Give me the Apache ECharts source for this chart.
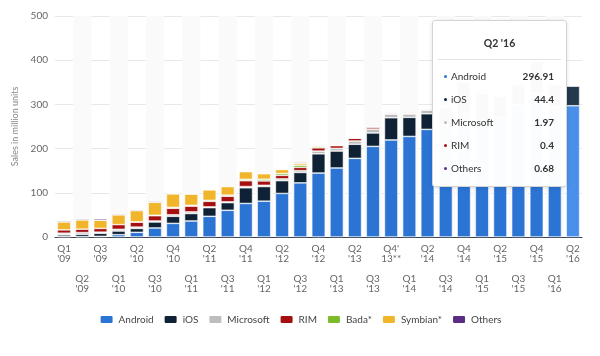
<!DOCTYPE html>
<html>
<head>
<meta charset="utf-8">
<script src="https://cdn.jsdelivr.net/npm/echarts@6/dist/echarts.min.js"></script>
<style>
html,body{margin:0;padding:0;background:#fff;}
#chart{width:600px;height:356px;}
</style>
</head>
<body>
<div id="chart"></div>
<script>
const categories = ["Q1\n'09","Q2\n'09","Q3\n'09","Q1\n'10","Q2\n'10","Q3\n'10","Q4\n'10","Q1\n'11","Q2\n'11","Q3\n'11","Q4\n'11","Q1\n'12","Q2\n'12","Q3\n'12","Q4\n'12","Q1\n'13","Q2\n'13","Q3\n'13","Q4'\n13**","Q1\n'14","Q2\n'14","Q3\n'14","Q4\n'14","Q1\n'15","Q2\n'15","Q3\n'15","Q4\n'15","Q1\n'16","Q2\n'16"];
const tooltipTitle = "Q2 '16";
const android   = [1.0,0.76,1.42,5.23,10.6,20.5,30.8,36.27,46.78,60.49,75.9,81.07,98.53,122.48,144.72,156.19,177.9,205.02,219.6,227.55,243.48,254.35,279.06,265.01,271.01,298.8,325.39,293.77,296.91];
const ios       = [3.85,5.33,7.04,8.36,8.74,13.48,16.01,16.88,19.63,17.3,35.46,33.12,28.94,23.55,43.46,38.33,31.9,30.33,50.22,43.06,35.35,38.19,71.53,60.18,48.09,46.06,71.53,51.63,44.4];
const microsoft = [3.74,3.83,2.5,3.7,3.1,2.25,3.42,3.66,1.72,1.7,2.76,2.71,4.04,4.06,6.19,5.99,7.41,8.91,8.2,7.58,8.1,8.97,10.43,8.27,8.2,5.87,4.4,2.4,1.97];
const rim       = [7.53,7.78,8.52,10.75,11.23,11.91,14.76,13.0,12.65,12.7,13.18,9.94,7.99,7.41,7.33,6.22,6.18,4.4,1.81,1.71,1.9,2.04,1.73,1.33,1.15,0.98,0.91,0.66,0.4];
const bada      = [null,null,null,null,0.58,0.92,2.03,1.9,2.06,2.48,3.11,3.84,4.21,5.05,2.68,null,null,null,null,null,null,null,null,null,null,null,null,null,null];
const symbian   = [17.83,20.88,18.31,22.0,25.39,29.48,30.5,25.5,23.85,19.5,17.46,12.47,9.07,4.4,2.57,1.35,0.63,0.46,null,null,null,null,null,null,null,null,null,null,null];
const others    = [2.5,2.4,3.3,2.2,2.0,2.0,1.5,0.5,1.0,0.8,1.2,1.3,0.9,2.3,0.8,1.5,1.3,1.5,1.5,1.5,1.2,1.4,1.2,1.6,1.6,1.4,1.1,0.9,0.68];
const yTicks = [0,100,200,300,400,500];

const seriesDefs = [
  {name:'Android',   data:android,   color:'#2b74d4', hi:'#4a8fe9'},
  {name:'iOS',       data:ios,       color:'#0e2135', hi:'#24384e'},
  {name:'Microsoft', data:microsoft, color:'#bdbdbd', hi:'#cfcfcf'},
  {name:'RIM',       data:rim,       color:'#a50f0f', hi:'#c02a2a'},
  {name:'Bada*',     data:bada,      color:'#7dbb2b', hi:'#93cc45'},
  {name:'Symbian*',  data:symbian,   color:'#f0b52a', hi:'#f5c650'},
  {name:'Others',    data:others,    color:'#5b2c83', hi:'#74449c'}
];
const last = categories.length - 1;
const FONT = 'Lato, "Open Sans", sans-serif';

const series = seriesDefs.map(s => ({
  name: s.name,
  type: 'bar',
  stack: 'total',
  barCategoryGap: '26%',
  itemStyle: {color: s.color, borderColor:'#fff', borderWidth:0.6},
  emphasis: {disabled: true},
  data: s.data.map((v,i) => i === last && v != null ? {value:v, itemStyle:{color:s.hi}} : v)
}));

function tipHtml(){
  let rows = '';
  seriesDefs.forEach(s => {
    const v = s.data[last];
    if (v == null) return;
    rows += '<div style="display:flex;justify-content:space-between;align-items:center;height:23px;padding:0 12px 0 11px;">' +
      '<span style="color:#333;font-size:10px;"><span style="display:inline-block;width:3px;height:3px;border-radius:50%;background:'+s.color+';vertical-align:middle;margin-right:4px;position:relative;top:-1px;"></span>'+s.name+'</span>' +
      '<span style="color:#333;font-size:10px;font-weight:bold;">'+v+'</span></div>';
  });
  return '<div style="width:133px;height:165px;box-sizing:border-box;font-family:'+FONT.replace(/"/g,"'")+';">' +
    '<div style="height:38px;line-height:44px;text-align:center;font-weight:bold;font-size:10.5px;color:#333;">'+tooltipTitle+'</div>' +
    '<div style="margin:0 5px;border-top:1px solid #e3e3e3;"></div>' +
    '<div style="padding-top:5px;">'+rows+'</div></div>';
}

const chart = echarts.init(document.getElementById('chart'), null, {renderer:'canvas'});
chart.setOption({
  animation: false,
  textStyle: {fontFamily: FONT},
  grid: {left:55, right:18, top:16, bottom:119},
  legend: {
    bottom: 26, left: 'center',
    itemWidth: 14, itemHeight: 9, itemGap: 9,
    icon: 'roundRect',
    textStyle: {fontSize:10, color:'#444', fontFamily: FONT},
    selectedMode: false
  },
  tooltip: {
    trigger: 'axis',
    triggerOn: 'none',
    alwaysShowContent: true,
    axisPointer: {type:'none'},
    position: [432, 20],
    padding: 0,
    borderWidth: 1,
    borderColor: '#d4d4d4',
    backgroundColor: 'rgba(255,255,255,0.98)',
    transitionDuration: 0,
    extraCssText: 'border-radius:3px;box-shadow:0 1px 4px rgba(0,0,0,0.12);',
    formatter: tipHtml
  },
  xAxis: {
    type: 'category',
    data: categories,
    axisTick: {show:false},
    axisLine: {lineStyle:{color:'#3a4450', width:1}},
    splitArea: {show:true, areaStyle:{color:['rgba(0,0,0,0)','#fafafa']}},
    axisLabel: {
      interval: 0, margin: 7, fontSize: 10, lineHeight: 10, color: '#666',
      formatter: (v, i) => (i % 2 === 1 ? '\n\n\n' : '') + v
    }
  },
  yAxis: {
    type: 'value',
    min: yTicks[0], max: yTicks[yTicks.length-1], interval: 100,
    name: 'Sales in million units',
    nameLocation: 'middle', nameGap: 27,
    nameTextStyle: {fontSize: 9, color:'#888'},
    axisLine: {show:false}, axisTick: {show:false},
    axisLabel: {fontSize:10, color:'#666', margin:7},
    splitLine: {lineStyle:{color:'#e8e8e8'}}
  },
  series: series
});
chart.dispatchAction({type:'showTip', seriesIndex:0, dataIndex:last});
</script>
</body>
</html>
